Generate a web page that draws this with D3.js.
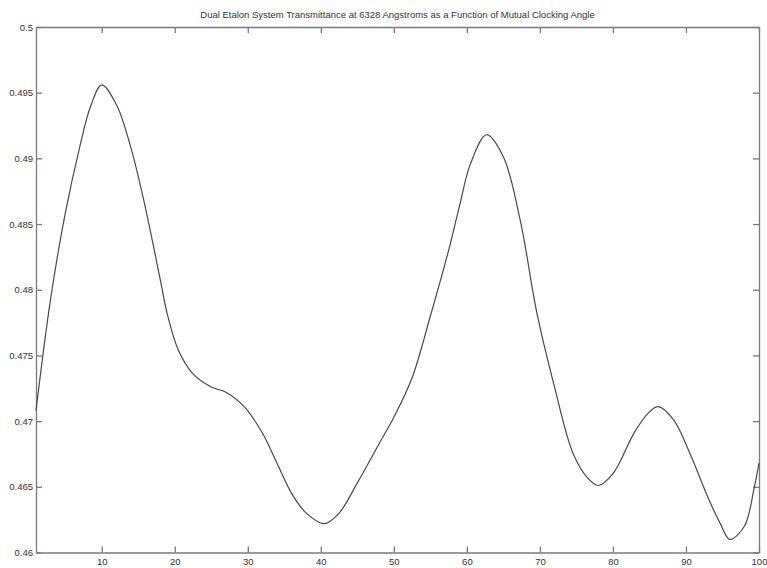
<!DOCTYPE html>
<html>
<head>
<meta charset="utf-8">
<script src="https://cdn.jsdelivr.net/npm/d3@7"></script>
<style>
	body { margin: 0; background: #fff; }
	svg { display: block; font-family: "Liberation Sans", Arial, sans-serif; }
</style>
</head>
<body>
<svg id="chart"></svg>
<script>
/*Data*/
var title = "Dual Etalon System Transmittance at 6328 Angstroms as a Function of Mutual Clocking Angle";

var angles = [1, 3, 5, 7, 8.5, 10, 12, 14, 16, 18, 19, 20.5, 22.5, 25, 27, 29.5, 32, 34, 36, 38,
	40.5, 42.5, 45, 48, 50, 52.5, 55, 57.5, 59, 60.5, 62.7, 65, 67.3, 69.6, 72, 74.5, 76.5, 78,
	80, 83, 85, 86.2, 88.3, 90.5, 93, 94.7, 96, 98, 99.3, 100];

var transmittance = [0.4708, 0.4793, 0.4858, 0.4909, 0.4940, 0.4956, 0.4941, 0.4908, 0.4862, 0.4808,
	0.4781, 0.4754, 0.4736, 0.4726, 0.4722, 0.4711, 0.4691, 0.4668, 0.4645, 0.4630,
	0.4622, 0.4630, 0.4653, 0.4683, 0.4703, 0.4733, 0.4780, 0.4830, 0.4864, 0.4896,
	0.4918, 0.4901, 0.4853, 0.4782, 0.4726, 0.4676, 0.4657, 0.4651, 0.4660, 0.4692,
	0.4707, 0.4711, 0.4701, 0.4676, 0.4642, 0.4622, 0.4610, 0.4620, 0.4648, 0.4668];

var xTicks = [10, 20, 30, 40, 50, 60, 70, 80, 90, 100];
var yTicks = [0.46, 0.465, 0.47, 0.475, 0.48, 0.485, 0.49, 0.495, 0.5];

var width = 767, height = 568;
var margin = {top: 27, right: 8, bottom: 15.5, left: 36};
var w = width - margin.left - margin.right;
var h = height - margin.top - margin.bottom;

var data = angles.map(function(a, i) {
	return {angle: a, value: transmittance[i]};
});

/*Scales*/
var xScale = d3.scaleLinear().domain([1, 100]).range([0, w]);
var yScale = d3.scaleLinear().domain([0.46, 0.5]).range([h, 0]);
var fmt = d3.format(".3~f");

var svg = d3.select("#chart")
	.attr("width", width)
	.attr("height", height);

var g = svg.append("g")
	.attr("transform", "translate(" + margin.left + "," + margin.top + ")");

/*Axes, ticks point inward like the original*/
var axisColor = "#7a7a7a";
function styleAxis(sel, showText) {
	sel.select(".domain").attr("stroke", axisColor).attr("stroke-width", 1.3);
	sel.selectAll(".tick line").attr("stroke", axisColor).attr("stroke-width", 1.3);
	sel.selectAll(".tick text")
		.attr("fill", "#333")
		.style("font-size", "9.5px")
		.style("display", showText ? null : "none");
}

g.append("g")
	.attr("transform", "translate(0," + h + ")")
	.call(d3.axisBottom(xScale).tickValues(xTicks).tickSize(-6).tickSizeOuter(0).tickPadding(4))
	.call(styleAxis, true)
	.selectAll(".tick text").attr("dy", "0.95em").attr("y", 3);

g.append("g")
	.call(d3.axisTop(xScale).tickValues(xTicks).tickSize(-6).tickSizeOuter(0))
	.call(styleAxis, false);

g.append("g")
	.call(d3.axisLeft(yScale).tickValues(yTicks).tickSize(-6).tickSizeOuter(0).tickFormat(fmt).tickPadding(3))
	.call(styleAxis, true);

g.append("g")
	.attr("transform", "translate(" + w + ",0)")
	.call(d3.axisRight(yScale).tickValues(yTicks).tickSize(-6).tickSizeOuter(0))
	.call(styleAxis, false);

/*Curve*/
var line = d3.line()
	.curve(d3.curveCatmullRom.alpha(0.5))
	.x(function(d) { return xScale(d.angle); })
	.y(function(d) { return yScale(d.value); });

g.append("path")
	.datum(data)
	.attr("fill", "none")
	.attr("stroke", "#4a4a4a")
	.attr("stroke-width", 1.2)
	.attr("d", line);

/*Title*/
svg.append("text")
	.attr("x", margin.left + w / 2)
	.attr("y", 18)
	.attr("text-anchor", "middle")
	.attr("fill", "#333")
	.style("font-size", "9.5px")
	.text(title);
</script>
</body>
</html>
